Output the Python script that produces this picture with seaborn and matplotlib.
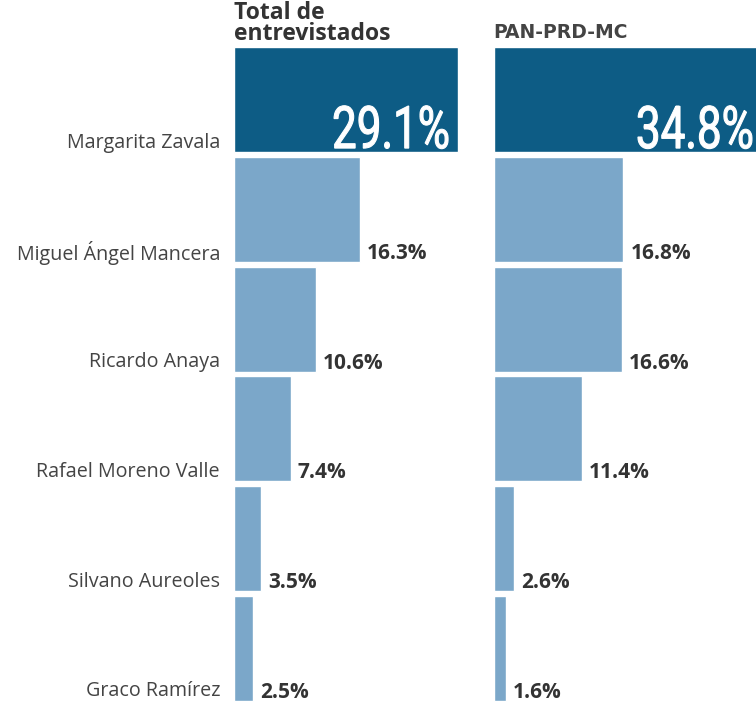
import pandas as pd
import seaborn as sns
import matplotlib.pyplot as plt
from matplotlib.textpath import TextPath
from matplotlib.patches import PathPatch
from matplotlib.font_manager import FontProperties
from matplotlib.transforms import Affine2D

# Candidates and shares (%) for each group
candidates = ['Margarita Zavala', 'Miguel Ángel Mancera', 'Ricardo Anaya',
              'Rafael Moreno Valle', 'Silvano Aureoles', 'Graco Ramírez']
total = [29.1, 16.3, 10.6, 7.4, 3.5, 2.5]
pan_prd_mc = [34.8, 16.8, 16.6, 11.4, 2.6, 1.6]
panel_titles = ['Total de\nentrevistados', 'PAN-PRD-MC']

dark = '#0d5c85'
light = '#7ba7c9'
palette = [dark] + [light] * (len(candidates) - 1)

sns.set_style('white')
plt.rcParams['font.family'] = ['Open Sans', 'DejaVu Sans']

fig = plt.figure(figsize=(7.56, 7.14), dpi=100)
bottom, top = 1 - 703 / 714, 1 - 45 / 714
px = 7.7  # pixels per percentage point
ax1 = fig.add_axes([234 / 756, bottom, 246 / 756, top - bottom])
ax2 = fig.add_axes([494 / 756, bottom, 262 / 756, top - bottom])


def condensed_label(ax, x, y, s, height=43, width=114):
    # narrow headline number: text outline squeezed horizontally
    path = TextPath((0, 0), s, size=40,
                    prop=FontProperties(family='Roboto', weight='normal'))
    ext = path.get_extents()
    sy = height / ext.height
    sx = width / ext.width
    xd, yd = ax.transData.transform((x, y))
    tr = Affine2D().translate(-ext.x1, 0).scale(sx, sy).translate(xd, yd)
    ax.add_patch(PathPatch(path, transform=tr, facecolor='white', edgecolor='white',
                           linewidth=0.8, clip_on=False))


for ax, vals in [(ax1, total), (ax2, pan_prd_mc)]:
    df = pd.DataFrame({'Candidato': candidates, 'Pct': vals})
    sns.barplot(data=df, x='Pct', y='Candidato', hue='Candidato', palette=palette,
                orient='h', width=0.96, legend=False, saturation=1, ax=ax)
    ax.set_xlim(0, ax.get_position().width * 756 / px)
    ax.set_ylim(len(candidates) - 0.5, -0.5)
    ax.set_xlabel('')
    ax.set_ylabel('')
    ax.set_xticks([])
    sns.despine(ax=ax, left=True, bottom=True)
    for i, v in enumerate(vals):
        if i == 0:
            condensed_label(ax, v - 1.3, i + 0.44, f'{v}%')
        else:
            ax.text(v + 0.9, i + 0.45, f'{v}%', color='#333333', fontsize=15,
                    fontweight='bold', ha='left', va='baseline')

ax1.set_yticks([i + 0.37 for i in range(len(candidates))])
ax1.set_yticklabels(candidates, fontsize=14.2, color='#444444')
ax1.tick_params(axis='y', length=0, pad=10)
ax2.set_yticks([])

fig.text(234 / 756, 1 - 1 / 714, panel_titles[0], fontsize=16.5, fontweight='bold',
         color='#333333', ha='left', va='top', linespacing=0.85)
fig.text(493 / 756, 1 - 38 / 714, panel_titles[1], fontsize=13.5, fontweight='bold',
         family='DejaVu Sans', color='#444444', ha='left', va='baseline')

fig.savefig('out.png', dpi=100)
